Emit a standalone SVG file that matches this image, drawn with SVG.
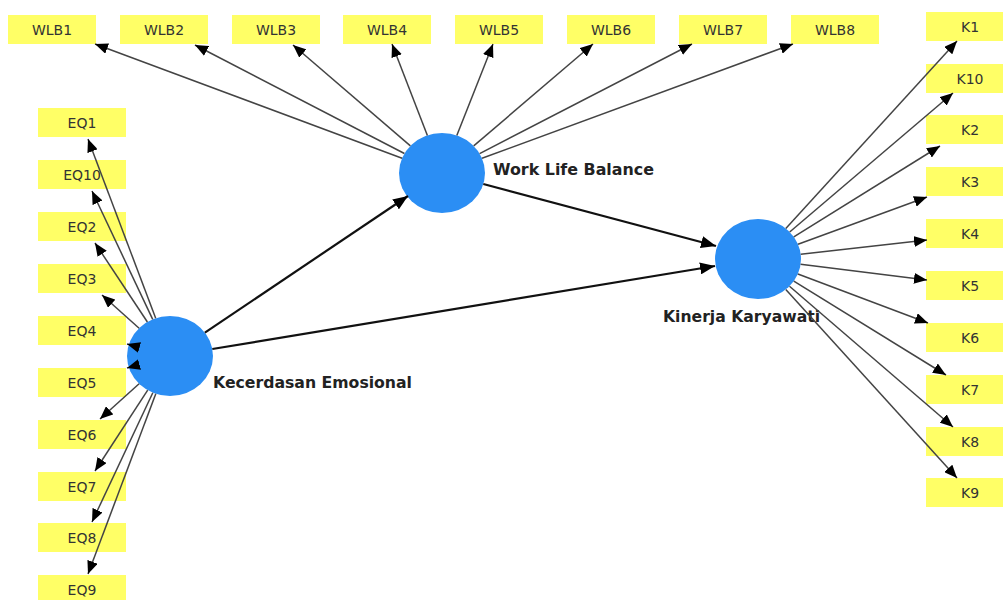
<svg xmlns="http://www.w3.org/2000/svg" width="1003" height="600" viewBox="0 0 1003 600">
<style>
.box{fill:#FFFF66}
.lbl{font-family:"DejaVu Sans",sans-serif;font-size:14px;fill:#333;text-anchor:middle;dominant-baseline:central}
.big{font-family:"DejaVu Sans",sans-serif;font-size:16px;font-weight:bold;fill:#222}
.ind{stroke:#444;stroke-width:1.5;fill:none;marker-end:url(#ah)}
.str{stroke:#111;stroke-width:2.2;fill:none;marker-end:url(#ahs)}
.lv{fill:#2B8EF4}
</style>
<defs>
<marker id="ah" markerUnits="userSpaceOnUse" markerWidth="13" markerHeight="11" refX="13" refY="5.5" orient="auto"><path d="M0,0 L13,5.5 L0,11 z" fill="#000"/></marker>
<marker id="ahs" markerUnits="userSpaceOnUse" markerWidth="15" markerHeight="12" refX="15" refY="6" orient="auto"><path d="M0,0 L15,6 L0,12 z" fill="#000"/></marker>
</defs>
<rect width="1003" height="600" fill="#fff"/>
<g id="WLB1"><rect class="box" x="8" y="15" width="88" height="29"/><text class="lbl" x="52" y="30">WLB1</text></g>
<g id="WLB2"><rect class="box" x="120" y="15" width="88" height="29"/><text class="lbl" x="164" y="30">WLB2</text></g>
<g id="WLB3"><rect class="box" x="232" y="15" width="88" height="29"/><text class="lbl" x="276" y="30">WLB3</text></g>
<g id="WLB4"><rect class="box" x="343" y="15" width="88" height="29"/><text class="lbl" x="387" y="30">WLB4</text></g>
<g id="WLB5"><rect class="box" x="455" y="15" width="88" height="29"/><text class="lbl" x="499" y="30">WLB5</text></g>
<g id="WLB6"><rect class="box" x="567" y="15" width="88" height="29"/><text class="lbl" x="611" y="30">WLB6</text></g>
<g id="WLB7"><rect class="box" x="679" y="15" width="88" height="29"/><text class="lbl" x="723" y="30">WLB7</text></g>
<g id="WLB8"><rect class="box" x="791" y="15" width="88" height="29"/><text class="lbl" x="835" y="30">WLB8</text></g>
<g id="EQ1"><rect class="box" x="38" y="108" width="88" height="29"/><text class="lbl" x="82" y="123">EQ1</text></g>
<g id="EQ10"><rect class="box" x="38" y="160" width="88" height="29"/><text class="lbl" x="82" y="175">EQ10</text></g>
<g id="EQ2"><rect class="box" x="38" y="212" width="88" height="29"/><text class="lbl" x="82" y="227">EQ2</text></g>
<g id="EQ3"><rect class="box" x="38" y="264" width="88" height="29"/><text class="lbl" x="82" y="279">EQ3</text></g>
<g id="EQ4"><rect class="box" x="38" y="316" width="88" height="29"/><text class="lbl" x="82" y="331">EQ4</text></g>
<g id="EQ5"><rect class="box" x="38" y="368" width="88" height="29"/><text class="lbl" x="82" y="383">EQ5</text></g>
<g id="EQ6"><rect class="box" x="38" y="420" width="88" height="29"/><text class="lbl" x="82" y="435">EQ6</text></g>
<g id="EQ7"><rect class="box" x="38" y="472" width="88" height="29"/><text class="lbl" x="82" y="487">EQ7</text></g>
<g id="EQ8"><rect class="box" x="38" y="523" width="88" height="29"/><text class="lbl" x="82" y="538">EQ8</text></g>
<g id="EQ9"><rect class="box" x="38" y="575" width="88" height="29"/><text class="lbl" x="82" y="590">EQ9</text></g>
<g id="K1"><rect class="box" x="926" y="12" width="88" height="29"/><text class="lbl" x="970" y="27">K1</text></g>
<g id="K10"><rect class="box" x="926" y="64" width="88" height="29"/><text class="lbl" x="970" y="79">K10</text></g>
<g id="K2"><rect class="box" x="926" y="115" width="88" height="29"/><text class="lbl" x="970" y="130">K2</text></g>
<g id="K3"><rect class="box" x="926" y="167" width="88" height="29"/><text class="lbl" x="970" y="182">K3</text></g>
<g id="K4"><rect class="box" x="926" y="219" width="88" height="29"/><text class="lbl" x="970" y="234">K4</text></g>
<g id="K5"><rect class="box" x="926" y="271" width="88" height="29"/><text class="lbl" x="970" y="286">K5</text></g>
<g id="K6"><rect class="box" x="926" y="323" width="88" height="29"/><text class="lbl" x="970" y="338">K6</text></g>
<g id="K7"><rect class="box" x="926" y="375" width="88" height="29"/><text class="lbl" x="970" y="390">K7</text></g>
<g id="K8"><rect class="box" x="926" y="427" width="88" height="29"/><text class="lbl" x="970" y="442">K8</text></g>
<g id="K9"><rect class="box" x="926" y="478" width="88" height="29"/><text class="lbl" x="970" y="493">K9</text></g>
<g id="WorkLifeBalance"><ellipse class="lv" cx="442" cy="173" rx="43" ry="40"/><text class="big" x="493" y="175" textLength="161" lengthAdjust="spacingAndGlyphs">Work Life Balance</text></g>
<g id="KinerjaKaryawati"><ellipse class="lv" cx="758" cy="259" rx="43" ry="40"/><text class="big" x="663" y="322" textLength="157" lengthAdjust="spacingAndGlyphs">Kinerja Karyawati</text></g>
<g id="KecerdasanEmosional"><ellipse class="lv" cx="170" cy="356" rx="43" ry="40"/><text class="big" x="213" y="388" textLength="199" lengthAdjust="spacingAndGlyphs">Kecerdasan Emosional</text></g>
<g id="connectors">
<line class="ind" x1="402.1" y1="158.2" x2="95" y2="44"/>
<line class="ind" x1="404.4" y1="153.5" x2="195" y2="45"/>
<line class="ind" x1="410.4" y1="145.9" x2="293" y2="45"/>
<line class="ind" x1="427.4" y1="135.4" x2="392" y2="44"/>
<line class="ind" x1="456.8" y1="135.5" x2="493" y2="44"/>
<line class="ind" x1="473.7" y1="145.9" x2="593" y2="44"/>
<line class="ind" x1="479.6" y1="153.6" x2="692" y2="44"/>
<line class="ind" x1="482.0" y1="158.3" x2="793" y2="44"/>
<line class="ind" x1="155.7" y1="318.3" x2="88" y2="139"/>
<line class="ind" x1="152.7" y1="319.4" x2="92" y2="191"/>
<line class="ind" x1="147.4" y1="322.0" x2="95" y2="243"/>
<line class="ind" x1="139.1" y1="328.2" x2="102" y2="295"/>
<line class="ind" x1="128.8" y1="344.5" x2="127" y2="344"/>
<line class="ind" x1="128.8" y1="367.5" x2="127" y2="368"/>
<line class="ind" x1="139.1" y1="383.8" x2="100" y2="419"/>
<line class="ind" x1="147.7" y1="390.2" x2="95" y2="471"/>
<line class="ind" x1="152.8" y1="392.7" x2="92" y2="522"/>
<line class="ind" x1="155.8" y1="393.8" x2="88" y2="574"/>
<line class="ind" x1="785.8" y1="228.5" x2="957" y2="41"/>
<line class="ind" x1="789.7" y1="232.0" x2="953" y2="93"/>
<line class="ind" x1="793.8" y1="236.8" x2="940" y2="146"/>
<line class="ind" x1="798.0" y1="244.3" x2="927" y2="197"/>
<line class="ind" x1="800.7" y1="254.2" x2="927" y2="240"/>
<line class="ind" x1="800.6" y1="264.3" x2="927" y2="280"/>
<line class="ind" x1="797.9" y1="274.0" x2="928" y2="323"/>
<line class="ind" x1="793.8" y1="281.1" x2="946" y2="375"/>
<line class="ind" x1="789.5" y1="286.2" x2="953" y2="427"/>
<line class="ind" x1="785.8" y1="289.5" x2="957" y2="478"/>
<line class="str" x1="204.9" y1="332.6" x2="408" y2="196"/>
<line class="str" x1="483.3" y1="184.0" x2="716" y2="246"/>
<line class="str" x1="212.3" y1="349.0" x2="715" y2="266"/>
</g>
</svg>
